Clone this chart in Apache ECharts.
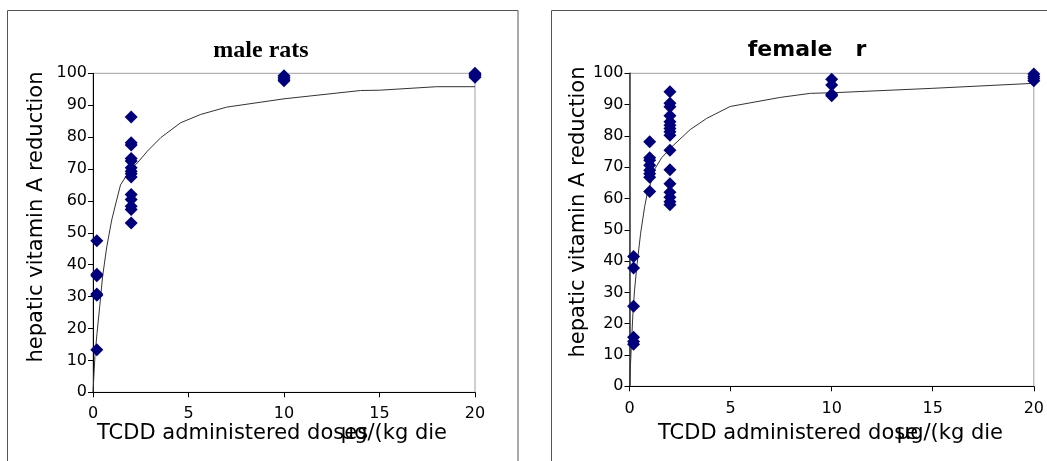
<!DOCTYPE html>
<html>
<head>
<meta charset="utf-8">
<script src="https://cdn.jsdelivr.net/npm/echarts@6/dist/echarts.min.js"></script>
<style>
  html, body { margin: 0; padding: 0; background: #fff; }
  #chart { width: 1047px; height: 461px; }
</style>
</head>
<body>
<div id="chart"></div>
<script>
// male rats: measured points
var maleDose = [0.2, 0.2, 0.2, 0.2, 0.2, 0.2,
  2, 2, 2, 2, 2, 2, 2, 2, 2, 2, 2, 2, 2, 2,
  10, 10, 10, 10,
  20, 20, 20, 20]
var maleValue = [47.5, 37, 36.5, 30.8, 30.4, 13.3,
  86.3, 78.2, 77.5, 73.3, 72.5, 70.4, 69.3, 68.5, 67.5, 62, 60.4, 58.3, 57.3, 53.1,
  99.2, 98.7, 98.2, 97.7,
  100, 99.6, 99.2, 98.8]
// male rats: fitted curve
var maleFitDose = [0, 0.1, 0.21, 0.35, 0.5, 0.72, 0.98, 1.24, 1.44, 1.89, 2.32, 2.85, 3.54, 4.59, 5.64, 7, 10, 14, 15, 18, 20]
var maleFitValue = [0, 11.2, 18.5, 26.8, 36.2, 45.6, 54, 60.3, 65, 69.3, 71.9, 75.6, 79.8, 84.5, 87.1, 89.4, 92, 94.6, 94.7, 95.8, 95.8]

// female rats: measured points
var femaleDose = [0.2, 0.2, 0.2, 0.2, 0.2, 0.2,
  1, 1, 1, 1, 1, 1, 1, 1,
  2, 2, 2, 2, 2, 2, 2, 2, 2, 2, 2, 2, 2, 2, 2, 2,
  10, 10, 10, 10,
  20, 20, 20, 20]
var femaleValue = [41.5, 37.8, 25.6, 15.7, 14.3, 13.4,
  78.1, 73, 72.2, 70.6, 69, 67.9, 66.8, 62.2,
  94.1, 90.4, 89.3, 86.4, 84.5, 83.4, 82.4, 81.3, 80.2, 75.4, 69.2, 64.7, 62, 60.4, 59, 58,
  98.1, 96.3, 93.3, 92.8,
  99.8, 99, 98.3, 97.6]
// female rats: fitted curve
var femaleFitDose = [0, 0.09, 0.17, 0.25, 0.38, 0.55, 0.75, 0.88, 1.05, 1.26, 1.59, 2.09, 3.0, 3.82, 4.98, 7.46, 8.95, 10.1, 15, 20]
var femaleFitValue = [0, 12.7, 23.3, 30.8, 39.3, 48.9, 57.4, 61.7, 64.9, 69.5, 73, 76.5, 82, 85.6, 89.4, 92.3, 93.6, 93.8, 95.2, 96.8]

var titles = ['male rats', 'female   r']
var yName = 'hepatic vitamin A reduction'
var xNameStart = ['TCDD administered doses', 'TCDD administered dose']
var xNameUnit = 'µg/(kg die'

function pairs(xs, ys) {
  return xs.map(function (x, i) { return [x, ys[i]] })
}

var font = 'DejaVu Sans'
var pointColor = '#00007f'

function xAxisOpt(gridIndex) {
  return {
    gridIndex: gridIndex, type: 'value', min: 0, max: 20, interval: 5,
    axisLine: { onZero: false, lineStyle: { color: '#000', width: 1 } },
    axisTick: { length: 5, lineStyle: { color: '#000' } },
    axisLabel: { margin: gridIndex ? 15 : 14, color: '#000', fontSize: 16, fontFamily: font },
    splitLine: { show: false }
  }
}
function yAxisOpt(gridIndex) {
  return {
    gridIndex: gridIndex, type: 'value', min: 0, max: 100, interval: 10,
    axisLine: { show: true, lineStyle: { color: gridIndex ? '#333' : '#000', width: gridIndex ? 1.5 : 1 } },
    axisTick: { show: true, length: 5, lineStyle: { color: '#000' } },
    axisLabel: { margin: 6, color: '#000', fontSize: 16, fontFamily: font },
    splitLine: { show: false }
  }
}

var myChart = echarts.init(document.getElementById('chart'))
var option = {
  animation: false,
  backgroundColor: '#fff',
  title: [
    { text: titles[0], left: 261, top: 39, padding: 0, textAlign: 'center',
      textStyle: { fontFamily: 'Liberation Serif', fontWeight: 'bold', fontSize: 24, color: '#000' } },
    { text: titles[1], left: 807, top: 39, padding: 0, textAlign: 'center',
      textStyle: { fontFamily: font, fontWeight: 'bold', fontSize: 22, color: '#000' } }
  ],
  grid: [
    { left: 93, top: 73.3, width: 382, height: 319, show: true, borderColor: '#a0a0a0', borderWidth: 1, backgroundColor: 'transparent' },
    { left: 629.5, top: 73.3, width: 404.5, height: 313, show: true, borderColor: '#a0a0a0', borderWidth: 1, backgroundColor: 'transparent' }
  ],
  xAxis: [xAxisOpt(0), xAxisOpt(1)],
  yAxis: [yAxisOpt(0), yAxisOpt(1)],
  graphic: [
    // panel frames
    { type: 'rect', shape: { x: 7.5, y: 10.5, width: 510.5, height: 480 }, style: { fill: 'none', stroke: '#555', lineWidth: 1 }, silent: true },
    { type: 'rect', shape: { x: 551.5, y: 10.5, width: 540, height: 480 }, style: { fill: 'none', stroke: '#555', lineWidth: 1 }, silent: true },
    // y axis names
    { type: 'text', x: 37, y: 217, rotation: Math.PI / 2,
      style: { text: yName, fontFamily: font, fontSize: 21, fill: '#000', textAlign: 'center', textVerticalAlign: 'middle' } },
    { type: 'text', x: 579, y: 212, rotation: Math.PI / 2,
      style: { text: yName, fontFamily: font, fontSize: 21, fill: '#000', textAlign: 'center', textVerticalAlign: 'middle' } },
    // x axis names (unit overprinted on the end of the label, as in the original)
    { type: 'text', x: 97, y: 434,
      style: { text: xNameStart[0], fontFamily: font, fontSize: 21, fill: '#000', textAlign: 'left', textVerticalAlign: 'middle' } },
    { type: 'text', x: 447, y: 434,
      style: { text: xNameUnit, fontFamily: font, fontSize: 21, fill: '#000', textAlign: 'right', textVerticalAlign: 'middle' } },
    { type: 'text', x: 658, y: 434,
      style: { text: xNameStart[1], fontFamily: font, fontSize: 21, fill: '#000', textAlign: 'left', textVerticalAlign: 'middle' } },
    { type: 'text', x: 1003, y: 434,
      style: { text: xNameUnit, fontFamily: font, fontSize: 21, fill: '#000', textAlign: 'right', textVerticalAlign: 'middle' } }
  ],
  series: [
    { name: 'male fit', type: 'line', xAxisIndex: 0, yAxisIndex: 0, data: pairs(maleFitDose, maleFitValue),
      showSymbol: false, symbol: 'none', lineStyle: { color: '#333', width: 1 }, z: 2 },
    { name: 'male', type: 'scatter', xAxisIndex: 0, yAxisIndex: 0, data: pairs(maleDose, maleValue),
      symbol: 'diamond', symbolSize: 13, itemStyle: { color: pointColor, opacity: 1 }, z: 3 },
    { name: 'female fit', type: 'line', xAxisIndex: 1, yAxisIndex: 1, data: pairs(femaleFitDose, femaleFitValue),
      showSymbol: false, symbol: 'none', lineStyle: { color: '#333', width: 1 }, z: 2 },
    { name: 'female', type: 'scatter', xAxisIndex: 1, yAxisIndex: 1, data: pairs(femaleDose, femaleValue),
      symbol: 'diamond', symbolSize: 13, itemStyle: { color: pointColor, opacity: 1 }, z: 3 }
  ]
}
myChart.setOption(option)
</script>
</body>
</html>
